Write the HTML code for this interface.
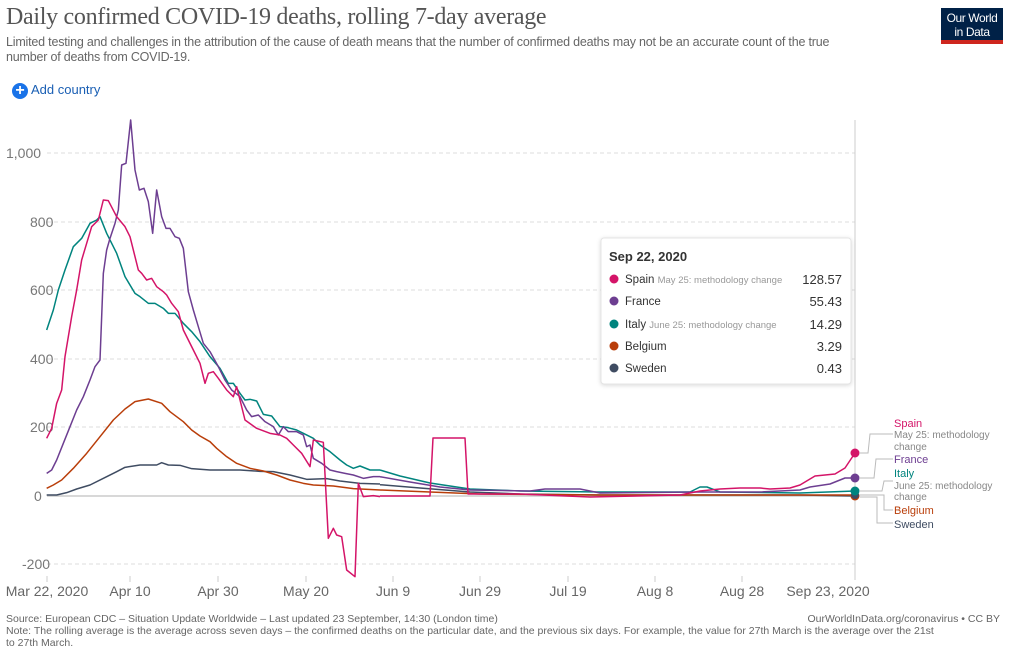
<!DOCTYPE html>
<html><head><meta charset="utf-8"><style>
body{margin:0;width:1012px;height:651px;background:#fff;font-family:"Liberation Sans",sans-serif;overflow:hidden;position:relative}
.t{position:absolute;white-space:nowrap}
</style></head><body>
<div class="t" style="left:6px;top:4px;font-family:'Liberation Serif',serif;font-size:24px;color:#555;letter-spacing:-0.3px">Daily confirmed COVID-19 deaths, rolling 7-day average</div>
<div class="t" style="left:6px;top:35px;font-size:12.5px;color:#666;line-height:15px;white-space:normal;width:850px;letter-spacing:-0.2px">Limited testing and challenges in the attribution of the cause of death means that the number of confirmed deaths may not be an accurate count of the true number of deaths from COVID-19.</div>
<div style="position:absolute;left:941px;top:8px;width:62px;height:36px;background:#002147;border-bottom:4px solid #ce261e;color:#fff;font-size:12px;text-align:center;line-height:14px;padding-top:3px;box-sizing:border-box;letter-spacing:-0.4px">Our World<br>in Data</div>
<div style="position:absolute;left:12px;top:83px;width:16px;height:16px;border-radius:50%;background:#1a73e8;color:#fff;font-size:16px;line-height:16px;text-align:center;font-weight:bold">+</div>
<div class="t" style="left:31px;top:82px;font-size:13px;color:#1a5fb4">Add country</div>
<svg style="position:absolute;left:0;top:0" width="1012" height="651">
<g stroke="#ddd" stroke-dasharray="4,3" stroke-width="1">
<line x1="47" x2="855" y1="153" y2="153"/><line x1="47" x2="855" y1="222" y2="222"/><line x1="47" x2="855" y1="290" y2="290"/><line x1="47" x2="855" y1="359" y2="359"/><line x1="47" x2="855" y1="427" y2="427"/><line x1="47" x2="855" y1="564" y2="564"/>
</g>
<line x1="47" x2="855" y1="496" y2="496" stroke="#ccc" stroke-width="1.5"/>
<line x1="855" x2="855" y1="120" y2="580" stroke="#ccc"/>
<g font-size="14" fill="#777" text-anchor="start">
<text x="6" y="158">1,000</text><text x="30" y="227">800</text><text x="30" y="295">600</text><text x="30" y="364">400</text><text x="30" y="432">200</text><text x="34" y="501">0</text><text x="22" y="569">-200</text>
</g>
<g stroke="#ccc"><line x1="47" x2="47" y1="576" y2="582"/><line x1="130" x2="130" y1="576" y2="582"/><line x1="218" x2="218" y1="576" y2="582"/><line x1="306" x2="306" y1="576" y2="582"/><line x1="393" x2="393" y1="576" y2="582"/><line x1="480" x2="480" y1="576" y2="582"/><line x1="568" x2="568" y1="576" y2="582"/><line x1="655" x2="655" y1="576" y2="582"/><line x1="742" x2="742" y1="576" y2="582"/></g>
<g font-size="14" fill="#666" text-anchor="middle">
<text x="47" y="596">Mar 22, 2020</text><text x="130" y="596">Apr 10</text><text x="218" y="596">Apr 30</text><text x="306" y="596">May 20</text><text x="393" y="596">Jun 9</text><text x="480" y="596">Jun 29</text><text x="568" y="596">Jul 19</text><text x="655" y="596">Aug 8</text><text x="742" y="596">Aug 28</text><text x="828" y="596">Sep 23, 2020</text>
</g>
<g fill="none" stroke-width="1.5" stroke-linejoin="round">
<polyline stroke="#3f4c62" points="380,484.7 420,488 470,492 520,494 600,495 700,495 800,495 855,496"/>
<polyline stroke="#b93e0a" points="380,490 430,492 480,494 600,495 700,495 800,495 855,495"/>
<polyline stroke="#00847e" points="380,470 400,476 430,483 470,489 520,491 600,492 690,492 700,487 707,487 720,492 800,493 855,491"/>
<polyline stroke="#6d3e91" points="380,476.7 410,482 440,487 470,490 530,491 545,489 580,489 600,493 700,492 760,492 800,490 810,487 830,484 845,478 855,478"/>
<polyline stroke="#d41468" points="380,496 430,496 433,438 465,438 468,494 520,494 590,497 680,495 700,491 720,489 740,488 760,488 770,489 790,488 800,485 815,476 835,474 845,468 855,453"/>
<g transform="translate(40,110) scale(0.33333)">
<polyline vector-effect="non-scaling-stroke" stroke="#3f4c62" points="20,1155 50,1155 80,1148 110,1137 150,1125 200,1100 230,1085 255,1072 300,1065 350,1065 365,1058 385,1065 420,1066 455,1076 510,1080 550,1080 600,1080 660,1084 700,1085 750,1095 800,1108 860,1106 900,1113 960,1120 1020,1122"/>
<polyline vector-effect="non-scaling-stroke" stroke="#b93e0a" points="20,1135 40,1125 65,1110 100,1075 140,1030 180,980 220,930 255,897 285,875 325,867 365,880 390,905 430,935 455,960 480,978 510,995 530,1015 560,1040 590,1060 630,1075 670,1083 710,1095 750,1110 790,1120 820,1125 880,1128 940,1136 1020,1140"/>
<polyline vector-effect="non-scaling-stroke" stroke="#00847e" points="20,660 40,600 55,540 75,480 100,410 125,385 150,340 170,330 180,320 200,370 230,430 255,500 285,550 300,560 325,580 345,580 370,595 385,610 405,610 430,640 455,665 480,695 510,740 540,775 565,820 580,820 600,850 615,870 630,868 650,873 670,913 695,918 720,950 740,952 770,960 790,970 820,985 840,1005 870,1025 900,1050 920,1065 940,1075 960,1068 990,1080 1020,1080"/>
<polyline vector-effect="non-scaling-stroke" stroke="#6d3e91" points="20,1090 35,1080 50,1050 70,1000 90,950 110,900 130,860 150,810 165,770 180,750 190,490 200,420 210,385 225,340 235,300 245,165 258,160 272,30 285,180 298,240 312,235 325,275 338,370 350,240 365,320 378,355 390,355 405,380 418,385 430,415 445,545 460,600 475,650 490,700 510,725 535,770 555,810 575,840 600,860 620,900 635,920 655,915 675,935 700,950 715,975 730,950 745,965 770,965 790,975 800,1010 810,1005 820,1045 845,1060 870,1080 890,1085 915,1090 940,1095 970,1105 1000,1100 1020,1100"/>
<polyline vector-effect="non-scaling-stroke" stroke="#d41468" points="20,985 35,955 50,880 65,840 75,740 95,620 110,540 125,450 140,400 155,350 175,330 190,270 205,272 230,320 255,350 270,380 295,480 305,490 320,510 335,505 350,530 370,545 380,555 395,580 415,605 430,660 445,690 460,720 480,760 495,820 505,790 520,785 535,805 560,840 580,860 590,830 600,870 615,930 650,955 690,970 720,975 740,985 760,1005 785,1030 810,1070 820,990 850,997 865,1285 880,1255 890,1275 905,1280 920,1380 945,1400 955,1120 970,1160 1000,1157 1020,1160"/>
</g>
</g>
<g><circle cx="855" cy="453" r="4.5" fill="#d41468"/><circle cx="855" cy="478" r="4.5" fill="#6d3e91"/><circle cx="855" cy="496" r="4.5" fill="#b93e0a"/><circle cx="855" cy="495" r="4" fill="#3f4c62"/><circle cx="855" cy="491" r="4.5" fill="#00847e"/></g>
<g fill="none" stroke="#bbb"><polyline points="860,453 868,453 870,434 893,434"/><polyline points="860,478 874,478 876,459 893,459"/><polyline points="860,491 882,491 884,481 893,481"/><polyline points="860,495 884,495 884,510 893,510"/><polyline points="860,497 877,497 877,523 893,523"/></g>
<g font-size="11">
<text x="894" y="427" fill="#d41468">Spain</text>
<text x="894" y="438" fill="#888" font-size="10">May 25: methodology</text><text x="894" y="450" fill="#888" font-size="10">change</text>
<text x="894" y="463" fill="#6d3e91">France</text>
<text x="894" y="477" fill="#00847e">Italy</text>
<text x="894" y="489" fill="#888" font-size="10">June 25: methodology</text><text x="894" y="500" fill="#888" font-size="10">change</text>
<text x="894" y="514" fill="#b93e0a">Belgium</text>
<text x="894" y="528" fill="#3f4c62">Sweden</text>
</g>
<rect x="601" y="238" width="250" height="146" rx="3" fill="#fff" stroke="#e4e4e4" style="filter:drop-shadow(0 1px 2px rgba(0,0,0,.15))"/>
<g font-size="11.5" fill="#333">
<text x="609" y="261" font-size="13" font-weight="bold" fill="#333">Sep 22, 2020</text>
<circle cx="614" cy="279" r="4.5" fill="#d41468"/><text x="625" y="283">Spain <tspan fill="#999" font-size="9.5">May 25: methodology change</tspan></text><text x="842" y="284" text-anchor="end" font-size="13">128.57</text>
<circle cx="614" cy="301" r="4.5" fill="#6d3e91"/><text x="625" y="305">France</text><text x="842" y="306" text-anchor="end" font-size="13">55.43</text>
<circle cx="614" cy="324" r="4.5" fill="#00847e"/><text x="625" y="328">Italy <tspan fill="#999" font-size="9.5">June 25: methodology change</tspan></text><text x="842" y="329" text-anchor="end" font-size="13">14.29</text>
<circle cx="614" cy="346" r="4.5" fill="#b93e0a"/><text x="625" y="350">Belgium</text><text x="842" y="351" text-anchor="end" font-size="13">3.29</text>
<circle cx="614" cy="368" r="4.5" fill="#3f4c62"/><text x="625" y="372">Sweden</text><text x="842" y="373" text-anchor="end" font-size="13">0.43</text>
</g>
</svg>
<div class="t" style="left:6px;top:613px;font-size:10.5px;color:#666">Source: European CDC – Situation Update Worldwide – Last updated 23 September, 14:30 (London time)</div>
<div class="t" style="right:12px;top:613px;font-size:10.5px;color:#666">OurWorldInData.org/coronavirus • CC BY</div>
<div class="t" style="left:6px;top:625px;font-size:10.5px;color:#666;line-height:12px;white-space:normal;width:930px">Note: The rolling average is the average across seven days – the confirmed deaths on the particular date, and the previous six days. For example, the value for 27th March is the average over the 21st to 27th March.</div>
</body></html>
